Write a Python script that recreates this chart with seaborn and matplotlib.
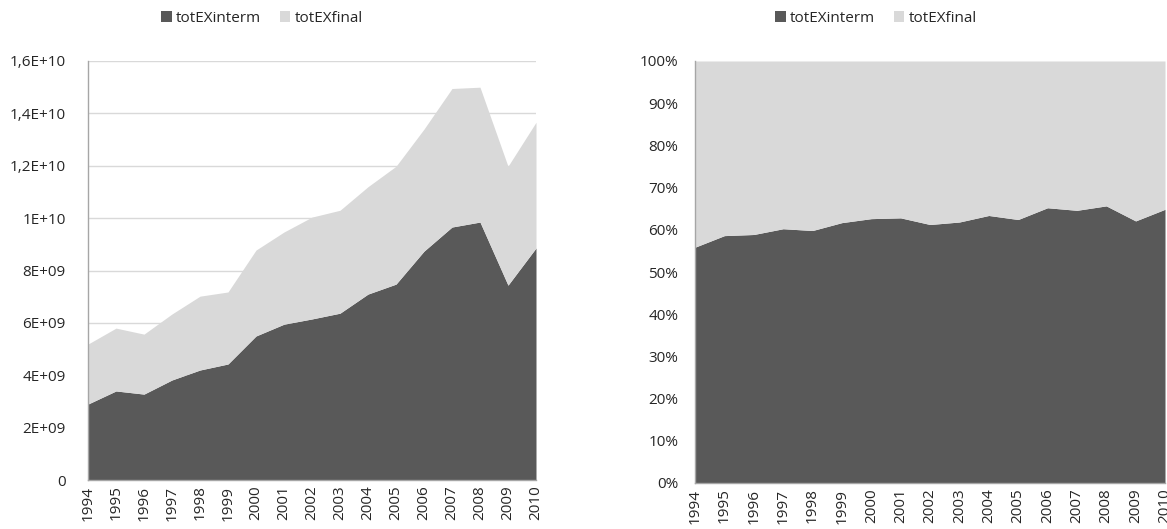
import matplotlib
matplotlib.use("Agg")
import matplotlib.pyplot as plt
from matplotlib.patches import Patch
from matplotlib.ticker import FixedLocator, FixedFormatter
import numpy as np
import seaborn as sns

years = [1994, 1995, 1996, 1997, 1998, 1999, 2000, 2001, 2002,
         2003, 2004, 2005, 2006, 2007, 2008, 2009, 2010]
# values in units of 1E9
interm_bn = [2.90, 3.40, 3.28, 3.82, 4.20, 4.43, 5.50, 5.95, 6.15,
             6.37, 7.10, 7.48, 8.74, 9.66, 9.85, 7.44, 8.86]
total_bn = [5.19, 5.80, 5.57, 6.34, 7.02, 7.18, 8.78, 9.47, 10.04,
            10.30, 11.20, 11.98, 13.40, 14.95, 15.00, 11.98, 13.66]
series_names = ["totEXinterm", "totEXfinal"]
left_ticks = [0, 2e9, 4e9, 6e9, 8e9, 1e10, 1.2e10, 1.4e10, 1.6e10]
left_labels = ["0", "2E+09", "4E+09", "6E+09", "8E+09", "1E+10",
               "1,2E+10", "1,4E+10", "1,6E+10"]
pct_ticks = [0, 10, 20, 30, 40, 50, 60, 70, 80, 90, 100]

interm = np.array(interm_bn) * 1e9
final = (np.array(total_bn) - np.array(interm_bn)) * 1e9
share_interm = interm / (interm + final) * 100
share_final = 100 - share_interm

sns.set_theme(style="white")
plt.rcParams["font.family"] = ["Open Sans", "DejaVu Sans"]
colors = ["#595959", "#d9d9d9"]
fs = 11

fig = plt.figure(figsize=(11.67, 5.29), dpi=100)
ax1 = fig.add_axes([88 / 1167, 1 - 480 / 529, 448 / 1167, 419 / 529])
ax2 = fig.add_axes([695 / 1167, 1 - 483 / 529, 470 / 1167, 422 / 529])

x = np.arange(len(years))

ax1.stackplot(x, interm, final, colors=colors, linewidth=0, zorder=2)
ax1.set_ylim(0, 1.6e10)
ax1.yaxis.set_major_locator(FixedLocator(left_ticks))
ax1.yaxis.set_major_formatter(FixedFormatter(left_labels))
ax1.grid(axis="y", color="#d9d9d9", linewidth=1, zorder=0)
ax1.set_axisbelow(True)
ax1.tick_params(axis="y", pad=16)

ax2.stackplot(x, share_interm, share_final, colors=colors, linewidth=0, zorder=2)
ax2.set_ylim(0, 100)
ax2.set_yticks(pct_ticks)
ax2.set_yticklabels([f"{t}%" for t in pct_ticks])
ax2.tick_params(axis="y", pad=12)

handles = [Patch(facecolor=c, edgecolor="none") for c in colors]
for ax, cx in ((ax1, 262), (ax2, 876)):
    ax.set_xlim(0, len(years) - 1)
    ax.set_xticks(x)
    ax.set_xticklabels([str(y) for y in years], rotation=90, fontsize=fs)
    ax.tick_params(axis="y", labelsize=fs, length=0)
    ax.tick_params(axis="x", length=0, pad=4)
    for side in ("top", "right"):
        ax.spines[side].set_visible(False)
    for side in ("left", "bottom"):
        ax.spines[side].set_color("#a6a6a6")
        ax.spines[side].set_linewidth(1)
    fig.legend(handles, series_names, ncol=2, frameon=False, fontsize=fs,
               loc="center", bbox_to_anchor=(cx / 1167, 1 - 18 / 529),
               handlelength=0.7, handleheight=0.7, handletextpad=0.3,
               columnspacing=1.2)

fig.savefig("out.png", dpi=100)
